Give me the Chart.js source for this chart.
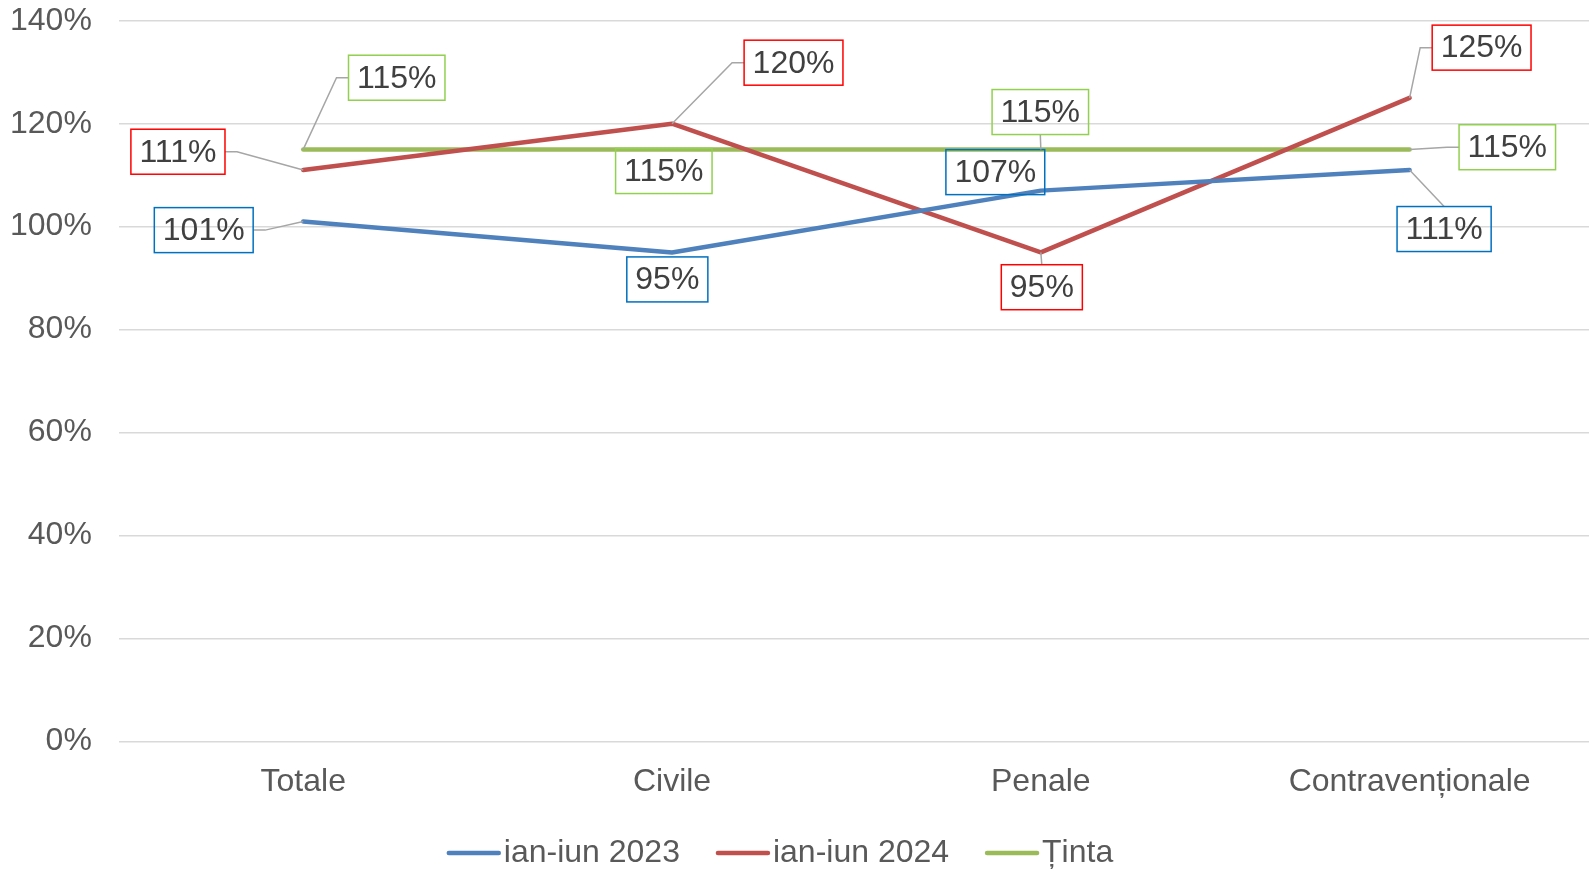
<!DOCTYPE html>
<html>
<head>
<meta charset="utf-8">
<script src="https://cdn.jsdelivr.net/npm/chart.js@4"></script>
<style>
  html, body { margin: 0; padding: 0; background: #fff; overflow: hidden; }
  #wrap { width: 1594px; height: 873px; }
</style>
</head>
<body>
<div id="wrap"><canvas id="grafic"></canvas></div>
<script>
// date
const categorii = ['Totale', 'Civile', 'Penale', 'Contravenționale'];
const ianIun2023 = [101, 95, 107, 111];
const ianIun2024 = [111, 120, 95, 125];
const tinta = [115, 115, 115, 115];
const yMax = 140;
const yPas = 20;

const FONT = '"Liberation Sans", Arial, sans-serif';

// pozitia etichetelor fata de punct (dx, dy) - doar aranjare
const pozEtichete = [
    [[-99.5, 8.6], [-4.7, 27], [-45.5, -18.5], [34.5, 59]],
    [[-125.3, -18.3], [121.5, -61], [1, 34.8], [72, -50.3]],
    [[93.5, -71.7], [-8.2, 21.6], [-0.5, -37.4], [97.7, -2.2]]
];
const culoriChenar = ['#0070C0', '#FF0000', '#92D050'];

const etichetePlugin = {
    id: 'etichete',
    afterDatasetsDraw(chart) {
        const ctx = chart.ctx;
        ctx.save();
        ctx.font = '32px ' + FONT;
        ctx.textAlign = 'center';
        ctx.textBaseline = 'middle';
        chart.data.datasets.forEach((ds, di) => {
            const meta = chart.getDatasetMeta(di);
            meta.data.forEach((pt, i) => {
                const txt = ds.data[i] + '%';
                const w = ctx.measureText(txt).width + 17;
                const h = 45;
                const cx = pt.x + pozEtichete[di][i][0];
                const cy = pt.y + pozEtichete[di][i][1];
                const l = cx - w / 2, r = cx + w / 2, t = cy - h / 2, b = cy + h / 2;

                // linie de legatura
                const departe = pt.x < l - 8 || pt.x > r + 8 || pt.y < t - 8 || pt.y > b + 8;
                if (departe) {
                    ctx.strokeStyle = '#A6A6A6';
                    ctx.lineWidth = 1.5;
                    ctx.beginPath();
                    ctx.moveTo(pt.x, pt.y);
                    if (pt.x < l) {
                        ctx.lineTo(l - 12, cy);
                        ctx.lineTo(l, cy);
                    } else if (pt.x > r) {
                        ctx.lineTo(r + 12, cy);
                        ctx.lineTo(r, cy);
                    } else if (pt.y < t) {
                        ctx.lineTo(cx, t);
                    } else {
                        ctx.lineTo(cx, b);
                    }
                    ctx.stroke();
                }

                ctx.strokeStyle = culoriChenar[di];
                ctx.lineWidth = 1.5;
                ctx.strokeRect(l, t, w, h);
                ctx.fillStyle = '#404040';
                ctx.fillText(txt, cx, cy + 1);
            });
        });
        ctx.restore();
    }
};

const legendaPlugin = {
    id: 'legendaJos',
    afterDraw(chart) {
        const ctx = chart.ctx;
        ctx.save();
        ctx.font = '32px ' + FONT;
        ctx.textBaseline = 'middle';
        ctx.textAlign = 'left';
        const lung = 54, spatiu = 3, intre = 36, y = 853;
        const items = chart.data.datasets.map(ds => ({ t: ds.label, c: ds.borderColor, w: ctx.measureText(ds.label).width }));
        let total = items.reduce((s, it) => s + lung + spatiu + it.w, 0) + intre * (items.length - 1);
        let x = 780 - total / 2;
        items.forEach(it => {
            ctx.strokeStyle = it.c;
            ctx.lineWidth = 4.5;
            ctx.lineCap = 'round';
            ctx.beginPath();
            ctx.moveTo(x + 2, y);
            ctx.lineTo(x + lung - 2, y);
            ctx.stroke();
            ctx.fillStyle = '#595959';
            ctx.fillText(it.t, x + lung + spatiu, y);
            x += lung + spatiu + it.w + intre;
        });
        ctx.restore();
    }
};

const serie = (label, data, culoare) => ({
    label: label,
    data: data,
    borderColor: culoare,
    backgroundColor: culoare,
    borderWidth: 4.5,
    borderCapStyle: 'round',
    borderJoinStyle: 'round',
    pointRadius: 0,
    tension: 0,
    fill: false
});

new Chart(document.getElementById('grafic').getContext('2d'), {
    type: 'line',
    data: {
        labels: categorii,
        datasets: [
            serie('ian-iun 2023', ianIun2023, '#4F81BD'),
            serie('ian-iun 2024', ianIun2024, '#C0504D'),
            serie('Ținta', tinta, '#9BBB59')
        ]
    },
    options: {
        responsive: true,
        maintainAspectRatio: false,
        animation: false,
        layout: { padding: { left: -17, top: 0, right: 0, bottom: 59 } },
        plugins: {
            legend: { display: false },
            tooltip: { enabled: false }
        },
        scales: {
            x: {
                offset: true,
                grid: { display: false },
                border: { display: false },
                ticks: { color: '#595959', font: { size: 32, family: FONT }, padding: 13, maxRotation: 0 }
            },
            y: {
                min: 0,
                max: yMax,
                afterFit: s => { s.paddingTop = 20.7; s.paddingBottom = 0; },
                ticks: {
                    stepSize: yPas,
                    color: '#595959',
                    font: { size: 32, family: FONT },
                    padding: 27,
                    callback: v => v + '%'
                },
                grid: { color: '#D9D9D9', lineWidth: 1.5, drawTicks: false },
                border: { display: false }
            }
        }
    },
    plugins: [etichetePlugin, legendaPlugin]
});
</script>
</body>
</html>
